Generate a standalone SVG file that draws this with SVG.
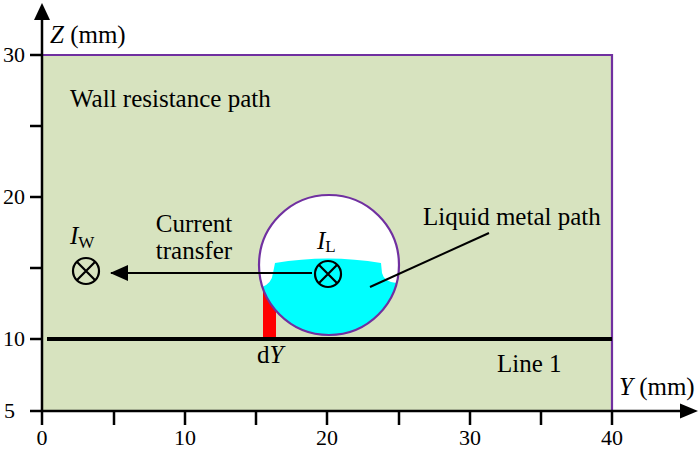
<svg xmlns="http://www.w3.org/2000/svg" width="700" height="450" viewBox="0 0 700 450">
<style>
text{font-family:"Liberation Serif","Times New Roman",serif;fill:#000}
.t{font-size:25px}
.n{font-size:22px}
.ax{stroke:#000;stroke-width:2.5;fill:none}
.tk{stroke:#000;stroke-width:2.5}
.pur{stroke:#7030a0;stroke-width:2.2;fill:none}
.ox{stroke:#000;stroke-width:2.2;fill:none}
</style>
<defs>
<marker id="ah" viewBox="0 0 18 16" refX="17" refY="8" markerWidth="18" markerHeight="16" markerUnits="userSpaceOnUse" orient="auto">
<path d="M18,8 L0,0 L0,16 Z" fill="#000"/>
</marker>
</defs>
<rect width="700" height="450" fill="#fff"/>

<g id="wall-region">
<rect x="42" y="55" width="570" height="356" fill="#d7e3bf"/>
<path class="pur" d="M42,55 H612 V411"/>
<text class="t" x="70" y="107">Wall resistance path</text>
</g>

<g id="dY-strip">
<rect x="263" y="284" width="13" height="54" fill="#ff0000"/>
<text class="t" x="257" y="363">d<tspan font-style="italic">Y</tspan></text>
</g>

<g id="liquid-metal">
<circle cx="329" cy="265" r="70" fill="#fff"/>
<path d="M262.2,287 Q272,283 273,273 L275,263 Q328,254 381,263 L382,273 Q384,282 396.6,283 A70,70 0 0 1 262.2,287 Z" fill="#00ffff"/>
<circle cx="329" cy="265" r="70" class="pur"/>
</g>

<g id="line1">
<line x1="47" y1="339" x2="612" y2="339" stroke="#000" stroke-width="4"/>
<text class="t" x="497" y="372">Line 1</text>
</g>

<g id="IL">
<circle cx="328" cy="274" r="13" class="ox"/>
<path class="ox" d="M318.8,264.8 L337.2,283.2 M337.2,264.8 L318.8,283.2"/>
<text x="317" y="249" font-size="25"><tspan font-style="italic">I</tspan><tspan font-size="17" dy="3">L</tspan></text>
</g>

<g id="IW">
<circle cx="86" cy="271" r="13" class="ox"/>
<path class="ox" d="M76.8,261.8 L95.2,280.2 M95.2,261.8 L76.8,280.2"/>
<text x="70" y="244" font-size="25"><tspan font-style="italic">I</tspan><tspan font-size="17" dy="4">W</tspan></text>
</g>

<g id="labels">
<text class="t" x="194" y="232" text-anchor="middle" font-size="24">Current</text>
<text class="t" x="194" y="259" text-anchor="middle" font-size="24">transfer</text>
<text class="t" x="423" y="225">Liquid metal path</text>
</g>

<g id="connectors">
<line x1="312" y1="273" x2="111" y2="273" stroke="#000" stroke-width="2" marker-end="url(#ah)"/>
<line x1="489" y1="233" x2="370" y2="287" stroke="#000" stroke-width="2"/>
</g>

<g id="axes">
<line class="ax" x1="42" y1="411" x2="42" y2="18"/>
<path d="M42,3 L34,20 L50,20 Z" fill="#000"/>
<line class="ax" x1="42" y1="411" x2="682" y2="411"/>
<path d="M698,411 L680,403.5 L680,418.5 Z" fill="#000"/>
<g class="tk">
<line x1="30" y1="55" x2="42" y2="55"/>
<line x1="30" y1="126" x2="42" y2="126"/>
<line x1="30" y1="197" x2="42" y2="197"/>
<line x1="30" y1="268" x2="42" y2="268"/>
<line x1="30" y1="339" x2="42" y2="339"/>
<line x1="30" y1="411" x2="42" y2="411"/>
<line x1="42" y1="411" x2="42" y2="425"/>
<line x1="114" y1="411" x2="114" y2="425"/>
<line x1="185" y1="411" x2="185" y2="425"/>
<line x1="256" y1="411" x2="256" y2="425"/>
<line x1="327" y1="411" x2="327" y2="425"/>
<line x1="399" y1="411" x2="399" y2="425"/>
<line x1="470" y1="411" x2="470" y2="425"/>
<line x1="541" y1="411" x2="541" y2="425"/>
<line x1="612" y1="411" x2="612" y2="425"/>
</g>
<text class="n" x="3" y="62">30</text>
<text class="n" x="3" y="204">20</text>
<text class="n" x="3" y="346">10</text>
<text class="n" x="4" y="418">5</text>
<text class="n" x="42" y="445" text-anchor="middle">0</text>
<text class="n" x="185" y="445" text-anchor="middle">10</text>
<text class="n" x="327" y="445" text-anchor="middle">20</text>
<text class="n" x="470" y="445" text-anchor="middle">30</text>
<text class="n" x="612" y="445" text-anchor="middle">40</text>
<text class="t" x="50" y="43"><tspan font-style="italic">Z</tspan> (mm)</text>
<text class="t" x="619" y="395"><tspan font-style="italic">Y</tspan> (mm)</text>
</g>
</svg>
